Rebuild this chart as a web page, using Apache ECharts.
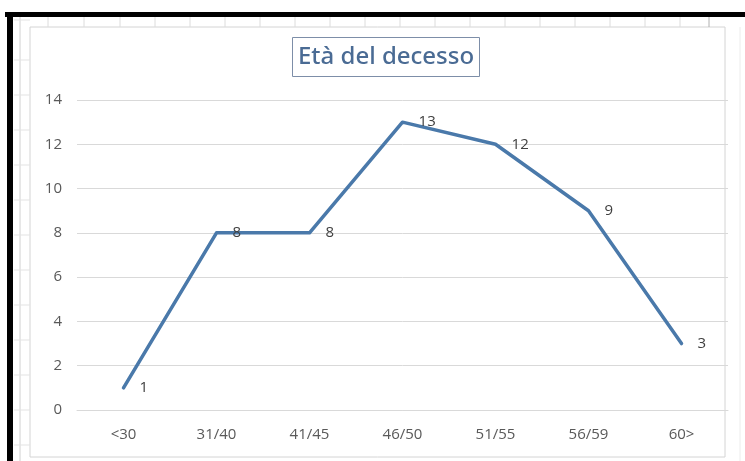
<!DOCTYPE html>
<html>
<head>
<meta charset="utf-8">
<script src="https://cdn.jsdelivr.net/npm/echarts@6/dist/echarts.min.js"></script>
<style>
  html, body { margin: 0; padding: 0; background: #ffffff; }
  #chart { width: 745px; height: 461px; }
</style>
</head>
<body>
<div id="chart"></div>
<script>
// Age groups at time of death and how many deaths fall in each
const categories = ['<30', '31/40', '41/45', '46/50', '51/55', '56/59', '60>'];
const deaths = [1, 8, 8, 13, 12, 9, 3];
const yTicks = [0, 2, 4, 6, 8, 10, 12, 14];

const chart = echarts.init(document.getElementById('chart'), null, { renderer: 'canvas' });

// Spreadsheet backdrop: cell lines, the sheet frame and the chart panel
const sheetLines = [];
[20, 60, 95, 130, 165, 200, 235, 270, 305, 340, 375, 410, 445].forEach(function (y) {
  sheetLines.push({ type: 'line', shape: { x1: 14, y1: y, x2: 30, y2: y }, style: { stroke: '#e3e3e3', lineWidth: 1 } });
});
[48, 84, 120, 155, 190, 225, 260, 295, 330, 365, 400, 435, 470, 505, 540, 575, 610, 645, 680].forEach(function (x) {
  sheetLines.push({ type: 'line', shape: { x1: x, y1: 17, x2: x, y2: 27 }, style: { stroke: '#dcdcdc', lineWidth: 1 } });
});

chart.setOption({
  backgroundColor: '#ffffff',
  animation: false,
  graphic: [
    { type: 'rect', z: -10, shape: { x: 0, y: 0, width: 745, height: 461 }, style: { fill: '#ffffff' } },
    { type: 'group', z: -9, children: sheetLines },
    { type: 'rect', z: -8, shape: { x: 30, y: 27, width: 695, height: 430 }, style: { fill: '#ffffff', stroke: '#d4d4d4', lineWidth: 1 } },
    { type: 'line', z: -8, shape: { x1: 20, y1: 17, x2: 20, y2: 461 }, style: { stroke: '#d0d0d0', lineWidth: 1 } },
    { type: 'line', z: -8, shape: { x1: 709, y1: 17, x2: 709, y2: 27 }, style: { stroke: '#b0b0b0', lineWidth: 1 } },
    { type: 'line', z: -8, shape: { x1: 740, y1: 27, x2: 740, y2: 461 }, style: { stroke: '#ececec', lineWidth: 1 } },
    { type: 'rect', z: 20, shape: { x: 5, y: 12, width: 740, height: 5 }, style: { fill: '#000000' } },
    { type: 'rect', z: 20, shape: { x: 7, y: 12, width: 6, height: 449 }, style: { fill: '#000000' } }
  ],
  title: {
    text: 'Età del decesso',
    left: 292,
    top: 37,
    padding: [8, 6, 8, 6],
    borderColor: '#7d8ea8',
    borderWidth: 1,
    textStyle: {
      fontFamily: 'Noto Sans',
      fontSize: 24,
      fontWeight: 500,
      color: '#4a6b94'
    }
  },
  grid: { left: 77, right: 17, top: 100, bottom: 51, containLabel: false },
  xAxis: {
    type: 'category',
    data: categories,
    boundaryGap: true,
    axisLine: { show: true, lineStyle: { color: '#d9d9d9', width: 1 } },
    axisTick: { show: false },
    axisLabel: { color: '#595959', fontFamily: 'Open Sans', fontSize: 15, margin: 17 }
  },
  yAxis: {
    type: 'value',
    min: yTicks[0],
    max: yTicks[yTicks.length - 1],
    interval: 2,
    axisLine: { show: false },
    axisTick: { show: false },
    axisLabel: { color: '#595959', fontFamily: 'Open Sans', fontSize: 15, margin: 15 },
    splitLine: { lineStyle: { color: '#d9d9d9', width: 1 } }
  },
  series: [{
    type: 'line',
    data: deaths,
    symbol: 'circle',
    symbolSize: 0.1,
    showSymbol: true,
    itemStyle: { color: '#4a79aa' },
    lineStyle: { color: '#4a79aa', width: 3.5, cap: 'round', join: 'round' },
    label: {
      show: true,
      position: 'right',
      distance: 16,
      color: '#404040',
      fontFamily: 'Open Sans',
      fontSize: 15
    }
  }]
});
</script>
</body>
</html>
